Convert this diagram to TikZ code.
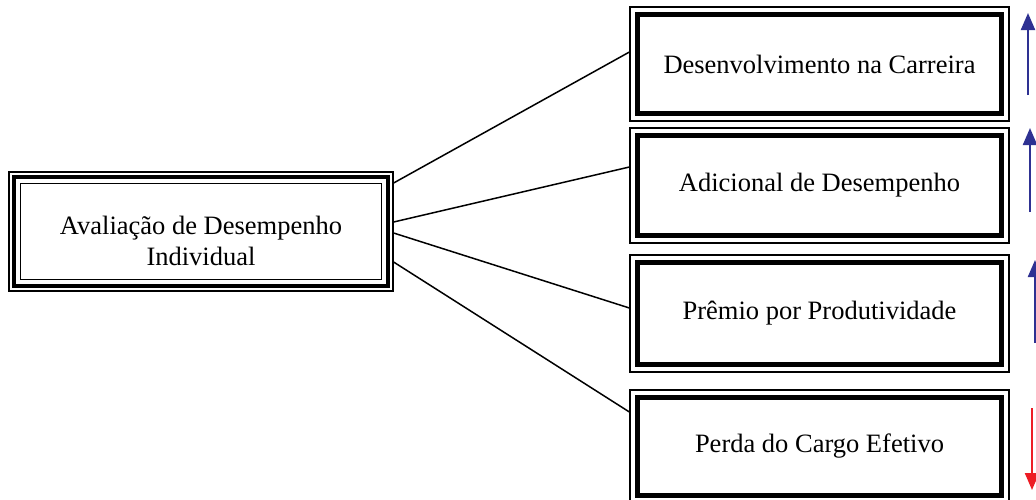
\documentclass[tikz,border=0pt]{standalone}
\usepackage{fontspec}
\setmainfont{Liberation Serif}
\usetikzlibrary{arrows.meta}
\definecolor{arrowblue}{RGB}{46,49,146}
\definecolor{arrowred}{RGB}{237,28,36}
\tikzset{>={Triangle[width=14pt,length=17pt]}}

\begin{document}
\begin{tikzpicture}[x=1pt,y=-1pt,
    boxfont/.style={font=\fontsize{26.5}{30.5}\selectfont},
    mainbox/.style={draw,line width=1.2pt,minimum width=384pt,minimum height=119pt,inner sep=0pt},
    sidebox/.style={draw,line width=1.2pt,minimum width=379pt,inner sep=0pt,boxfont},
    link/.style={line width=1.5pt},
    trend/.style={->,line width=2.2pt}]
    \useasboundingbox (0,0) rectangle (1036,499);

    % left box
    \node[mainbox] (eval) at (201,231.5) {};
    \draw[line width=4pt] ([shift={(6pt,-6pt)}]eval.north west) rectangle ([shift={(-6pt,6pt)}]eval.south east);
    \draw[line width=1.5pt] ([shift={(12pt,-12pt)}]eval.north west) rectangle ([shift={(-12pt,12pt)}]eval.south east);
    \node[boxfont,align=center] (evaltext) at (201,241) {Avaliação de Desempenho\\Individual};

    % right boxes
    \node[sidebox,minimum height=114pt] (dev) at (819.5,64) {Desenvolvimento na Carreira};
    \node[sidebox,minimum height=115pt] (adic) at (819.5,185.5) {Adicional de Desempenho};
    \node[sidebox,minimum height=117pt] (prem) at (819.5,313.5) {Prêmio por Produtividade};
    \node[sidebox,minimum height=113pt] (perd) at (819.5,446.5) {Perda do Cargo Efetivo};
    \foreach \n in {dev,adic,prem,perd}
        \draw[line width=5pt] ([shift={(8pt,-8pt)}]\n.north west) rectangle ([shift={(-8pt,8pt)}]\n.south east);

    % links
    \draw[link] ([yshift=48.5pt]eval.east) -- ([yshift=12pt]dev.west);
    \draw[link] ([yshift=9.5pt]eval.east) -- ([yshift=18.5pt]adic.west);
    \draw[link] ([yshift=-1.5pt]eval.east) -- ([yshift=5.5pt]prem.west);
    \draw[link] ([yshift=-30.5pt]eval.east) -- ([yshift=34.5pt]perd.west);

    % trends
    \draw[trend,arrowblue] (1028,95) -- (1028,13);
    \draw[trend,arrowblue] (1030,212) -- (1030,128);
    \draw[trend,arrowblue] (1035,343) -- (1035,260);
    \draw[trend,arrowred] (1032,408) -- (1032,490);
\end{tikzpicture}
\end{document}
